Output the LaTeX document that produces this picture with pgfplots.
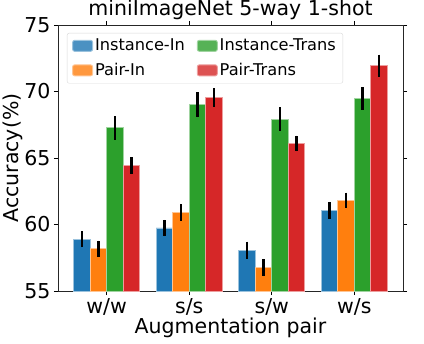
\documentclass[border=0pt]{standalone}
\usepackage{fontspec}
\setmainfont{DejaVu Sans}
\usepackage{pgfplots}
\pgfplotsset{compat=1.18}
\definecolor{mblue}{HTML}{1F77B4}
\definecolor{morange}{HTML}{FF7F0E}
\definecolor{mgreen}{HTML}{2CA02C}
\definecolor{mred}{HTML}{D62728}

% x: 0=w/w 1=s/s 2=s/w 3=w/s
\pgfplotstableread{
x  y     e
0  58.89 0.60
1  59.74 0.61
2  58.08 0.64
3  61.06 0.64
}\instin
\pgfplotstableread{
x  y     e
0  58.18 0.60
1  60.92 0.63
2  56.76 0.65
3  61.82 0.58
}\pairin
\pgfplotstableread{
x  y     e
0  67.26 0.87
1  69.01 0.93
2  67.93 0.87
3  69.46 0.85
}\insttrans
\pgfplotstableread{
x  y     e
0  64.42 0.64
1  69.56 0.70
2  66.10 0.59
3  71.94 0.83
}\pairtrans

\pgfplotsset{
  barset/.style={fill=#1, draw=#1!45!white, line width=0.9bp},
}

\begin{document}
\begin{tikzpicture}
\useasboundingbox (-58bp,-53bp) rectangle (366bp,291bp);
\begin{axis}[
    at={(0,0)}, anchor=south west,
    scale only axis,
    width=345bp, height=266bp,
    ybar, bar width=0.2,
    xmin=-0.59, xmax=3.59,
    ymin=55, ymax=75,
    ytick={55,60,65,70,75},
    xtick={0,1,2,3},
    xticklabels={w/w, s/s, s/w, w/s},
    tick align=outside,
    major tick length=4bp,
    tick style={black, line width=0.8bp},
    axis line style={black!85, line width=0.8bp},
    /pgf/number format/assume math mode=true,
    tick label style={font=\fontsize{20.5bp}{24bp}\selectfont},
    label style={font=\fontsize{20.5bp}{24bp}\selectfont},
    title={miniImageNet 5-way 1-shot},
    title style={font=\fontsize{20.5bp}{24bp}\selectfont, at={(axis description cs:0.5,1)}, anchor=base, yshift=4bp},
    ylabel={Accuracy(\%)},
    ylabel style={at={(axis description cs:-0.1145,0.5)}, anchor=base},
    xlabel={Augmentation pair},
    xlabel style={at={(axis description cs:0.5,-0.160)}, anchor=base},
    legend style={at={(axis description cs:0.026,0.97)}, anchor=north west,
      draw=black!15, rounded corners=2bp,
      fill=white, fill opacity=0.8, text opacity=1,
      inner xsep=5bp, inner ysep=4bp, row sep=7bp,
      nodes={font=\fontsize{16.2bp}{19bp}\selectfont},
      /tikz/every even column/.append style={column sep=10bp}},
    legend cell align=left,
    legend columns=2,
    transpose legend,
    legend image code/.code={\fill[#1] (0bp,-5.5bp) rectangle (20bp,5.5bp);},
    error bars/y dir=both, error bars/y explicit,
    error bars/error mark=none,
    error bars/error bar style={line width=2.5bp, black},
]
\addplot[barset=mblue, bar shift=-0.3] table[x=x, y=y, y error=e] {\instin};
\addplot[barset=morange, bar shift=-0.1] table[x=x, y=y, y error=e] {\pairin};
\addplot[barset=mgreen, bar shift=0.1] table[x=x, y=y, y error=e] {\insttrans};
\addplot[barset=mred, bar shift=0.3] table[x=x, y=y, y error=e] {\pairtrans};
\legend{Instance-In, Pair-In, Instance-Trans, Pair-Trans}
\end{axis}
\end{tikzpicture}
\end{document}
